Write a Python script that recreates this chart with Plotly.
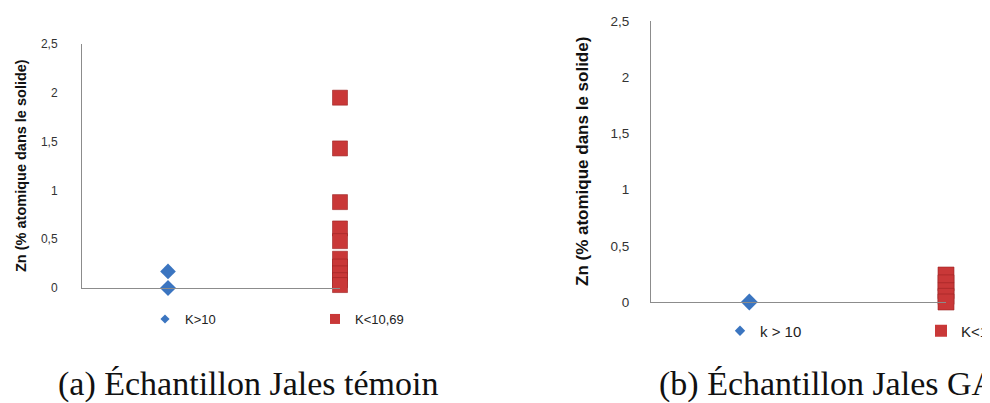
import plotly.graph_objects as go

# ---- data ----
a_cat_blue = [1, 1, 1]
a_blue = [0.17, 0.0, 0.0]
a_cat_red = [2] * 10
a_red = [1.95, 1.43, 0.88, 0.61, 0.48, 0.30, 0.22, 0.15, 0.08, 0.03]

b_cat_blue = [1]
b_blue = [0.0]
b_cat_red = [2] * 5
b_red = [0.24, 0.17, 0.10, 0.05, 0.0]

y_ticks = [0, 0.5, 1, 1.5, 2, 2.5]
y_ticktext = ["0", "0,5", "1", "1,5", "2", "2,5"]

names_a = ["K>10", "K<10,69"]
names_b = ["k > 10", "K<10,69"]
y_title = "Zn (% atomique dans le solide)"
captions = ["(a) Échantillon Jales témoin", "(b) Échantillon Jales GA"]

BLUE = "#3b75c0"
RED = "#c93838"
RED_EDGE = "#9c2424"
W, H = 990, 403
OFF = 8  # page body margin


def px(v):
    return (v - OFF) / W


def py(v):
    return 1 - (v - OFF) / H


fig = go.Figure()

# panel a data
fig.add_trace(go.Scatter(x=a_cat_blue, y=a_blue, mode="markers", showlegend=False,
                         marker=dict(symbol="diamond", size=12, color=BLUE),
                         cliponaxis=False, xaxis="x", yaxis="y"))
fig.add_trace(go.Scatter(x=a_cat_red, y=a_red, mode="markers", showlegend=False,
                         marker=dict(symbol="square", size=15, color=RED,
                                     line=dict(color=RED_EDGE, width=0.6)),
                         cliponaxis=False, xaxis="x", yaxis="y"))
# panel b data
fig.add_trace(go.Scatter(x=b_cat_blue, y=b_blue, mode="markers", showlegend=False,
                         marker=dict(symbol="diamond", size=13, color=BLUE),
                         cliponaxis=False, xaxis="x2", yaxis="y2"))
fig.add_trace(go.Scatter(x=b_cat_red, y=b_red, mode="markers", showlegend=False,
                         marker=dict(symbol="square", size=16, color=RED,
                                     line=dict(color=RED_EDGE, width=0.6)),
                         cliponaxis=False, xaxis="x2", yaxis="y2"))

# legend entries
leg_specs = [
    ("legend", names_a[0], "diamond", 7, BLUE),
    ("legend2", names_a[1], "square", 10, RED),
    ("legend3", names_b[0], "diamond", 8, BLUE),
    ("legend4", names_b[1], "square", 12, RED),
]
for lg, nm, sym, sz, col in leg_specs:
    fig.add_trace(go.Scatter(x=[None], y=[None], mode="markers", name=nm, legend=lg,
                             marker=dict(symbol=sym, size=sz, color=col),
                             xaxis="x", yaxis="y"))

tick_font_a = dict(family="Liberation Sans, Arial, sans-serif", size=12, color="#333333")
tick_font_b = dict(family="Liberation Sans, Arial, sans-serif", size=13.5, color="#333333")

yax_common = dict(range=[0, 2.5], tickvals=y_ticks, ticktext=y_ticktext, showgrid=False,
                  zeroline=False, showline=True, linecolor="#8c8c8c", linewidth=1,
                  ticks="", fixedrange=True)
xax_common = dict(range=[0.5, 2], showgrid=False, zeroline=False, showline=True,
                  linecolor="#8c8c8c", linewidth=1, showticklabels=False, ticks="")

leg_common = dict(bgcolor="rgba(0,0,0,0)", borderwidth=0, xanchor="left", yanchor="middle",
                  itemsizing="trace")

fig.update_layout(
    width=W, height=H, autosize=False,
    margin=dict(l=0, r=0, t=0, b=0, autoexpand=False),
    paper_bgcolor="white", plot_bgcolor="white",
    xaxis=dict(domain=[px(82), px(340)], anchor="y", **xax_common),
    yaxis=dict(domain=[py(288), py(44)], anchor="x", tickfont=tick_font_a,
               ticklabelstandoff=21, **yax_common),
    xaxis2=dict(domain=[px(651), px(946)], anchor="y2", **xax_common),
    yaxis2=dict(domain=[py(302), py(21)], anchor="x2", tickfont=tick_font_b,
                ticklabelstandoff=18, **yax_common),
    legend=dict(x=px(145), y=py(319),
                font=dict(family="Liberation Sans, Arial", size=13, color="#222"), **leg_common),
    legend2=dict(x=px(315), y=py(319),
                 font=dict(family="Liberation Sans, Arial", size=13, color="#222"), **leg_common),
    legend3=dict(x=px(720), y=py(331),
                 font=dict(family="Liberation Sans, Arial", size=15, color="#222"), **leg_common),
    legend4=dict(x=px(921), y=py(331),
                 font=dict(family="Liberation Sans, Arial", size=15, color="#222"), **leg_common),
)

title_font_a = dict(family="Liberation Sans, Arial", size=14.5, color="#111")
title_font_b = dict(family="Liberation Sans, Arial", size=17, color="#111")
fig.add_annotation(x=px(21), y=py(166), xref="paper", yref="paper", text="<b>" + y_title + "</b>",
                   textangle=-90, showarrow=False, font=title_font_a, xanchor="center", yanchor="middle")
fig.add_annotation(x=px(582), y=py(162), xref="paper", yref="paper", text="<b>" + y_title + "</b>",
                   textangle=-90, showarrow=False, font=title_font_b, xanchor="center", yanchor="middle")

cap_font = dict(family="Liberation Serif, Times New Roman, serif", size=34, color="#111")
fig.add_annotation(x=px(248), y=py(384), xref="paper", yref="paper", text=captions[0],
                   showarrow=False, font=cap_font, xanchor="center", yanchor="middle")
fig.add_annotation(x=px(657), y=py(384), xref="paper", yref="paper", text=captions[1],
                   showarrow=False, font=cap_font, xanchor="left", yanchor="middle")

fig.write_html("out.html")
